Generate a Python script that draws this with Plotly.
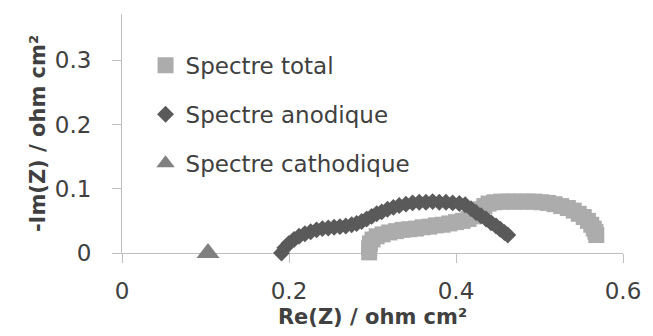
import plotly.graph_objects as go

# Nyquist data: real part (ohm cm2) and minus imaginary part (ohm cm2)
total_x = [0.296, 0.296, 0.297, 0.300, 0.305, 0.312, 0.320, 0.328, 0.336, 0.344,
           0.352, 0.360, 0.368, 0.376, 0.384, 0.392, 0.400, 0.408, 0.415, 0.421,
           0.426, 0.430, 0.434, 0.439, 0.446, 0.454, 0.462, 0.470, 0.478, 0.486,
           0.494, 0.502, 0.510, 0.518, 0.526, 0.534, 0.541, 0.547, 0.553, 0.558,
           0.562, 0.565, 0.567, 0.568]
total_y = [0.001, 0.008, 0.015, 0.021, 0.026, 0.029, 0.032, 0.034, 0.036, 0.037,
           0.038, 0.040, 0.041, 0.043, 0.044, 0.046, 0.048, 0.050, 0.053, 0.057,
           0.062, 0.068, 0.073, 0.077, 0.079, 0.080, 0.080, 0.080, 0.080, 0.080,
           0.080, 0.079, 0.078, 0.076, 0.073, 0.070, 0.066, 0.061, 0.056, 0.050,
           0.044, 0.038, 0.033, 0.028]

anod_x = [0.191, 0.195, 0.200, 0.206, 0.212, 0.219, 0.226, 0.233, 0.240, 0.247,
          0.254, 0.261, 0.268, 0.275, 0.281, 0.287, 0.293, 0.299, 0.305, 0.311,
          0.318, 0.325, 0.332, 0.340, 0.348, 0.356, 0.364, 0.372, 0.380, 0.388,
          0.396, 0.404, 0.411, 0.418, 0.424, 0.430, 0.436, 0.442, 0.448, 0.453,
          0.458, 0.462]
anod_y = [0.000, 0.008, 0.015, 0.021, 0.026, 0.030, 0.033, 0.036, 0.038, 0.039,
          0.040, 0.041, 0.042, 0.044, 0.046, 0.049, 0.053, 0.057, 0.061, 0.064,
          0.068, 0.071, 0.074, 0.076, 0.078, 0.079, 0.079, 0.080, 0.079, 0.079,
          0.078, 0.077, 0.075, 0.069, 0.063, 0.058, 0.053, 0.047, 0.042, 0.037,
          0.032, 0.028]

cath_x = [0.103]
cath_y = [0.0]

x_ticks = [0, 0.2, 0.4, 0.6]
x_labels = ["0", "0.2", "0.4", "0.6"]
y_ticks = [0, 0.1, 0.2, 0.3]
y_labels = ["0", "0.1", "0.2", "0.3"]

FONT = "DejaVu Sans"
TXT = "#404040"
AXIS = "#bfbfbf"

fig = go.Figure()
fig.add_trace(go.Scatter(
    x=total_x, y=total_y, mode="markers", name="Spectre total",
    legendgroup="a", cliponaxis=False,
    marker=dict(symbol="square", size=16, color="#acacac"),
))
fig.add_trace(go.Scatter(
    x=anod_x, y=anod_y, mode="markers", name="Spectre anodique",
    legendgroup="b", cliponaxis=False,
    marker=dict(symbol="diamond", size=13, color="#5a5a5a"),
))
fig.add_trace(go.Scatter(
    x=cath_x, y=cath_y, mode="markers", name="Spectre cathodique",
    legendgroup="c", cliponaxis=False,
    marker=dict(symbol="triangle-up", size=20, color="#808080"),
))

fig.update_layout(
    width=653, height=336,
    margin=dict(l=122, r=21, t=14, b=81),
    paper_bgcolor="white", plot_bgcolor="white",
    font=dict(family=FONT, size=23, color=TXT),
    legend=dict(
        x=0.047, y=0.875, xanchor="left", yanchor="top",
        traceorder="grouped", tracegroupgap=16,
        font=dict(family=FONT, size=23, color=TXT),
        bgcolor="rgba(0,0,0,0)",
    ),
    xaxis=dict(
        range=[0, 0.6], tickvals=x_ticks, ticktext=x_labels,
        showgrid=False, zeroline=False, showline=True,
        linecolor=AXIS, linewidth=1, ticks="outside", ticklen=9,
        tickcolor=AXIS, tickwidth=1, ticklabelstandoff=8,
        layer="below traces",
        title=dict(text="<b>Re(Z) / ohm cm²</b>", font=dict(size=21), standoff=6),
    ),
    yaxis=dict(
        range=[0, 0.372], tickvals=y_ticks, ticktext=y_labels,
        showgrid=False, zeroline=False, showline=True,
        linecolor=AXIS, linewidth=1, ticks="outside", ticklen=9,
        tickcolor=AXIS, tickwidth=1, ticklabelstandoff=16,
        layer="below traces",
        title=dict(text="<b>-Im(Z) / ohm cm²</b>", font=dict(size=21), standoff=3),
    ),
)

fig.write_html("out.html")
